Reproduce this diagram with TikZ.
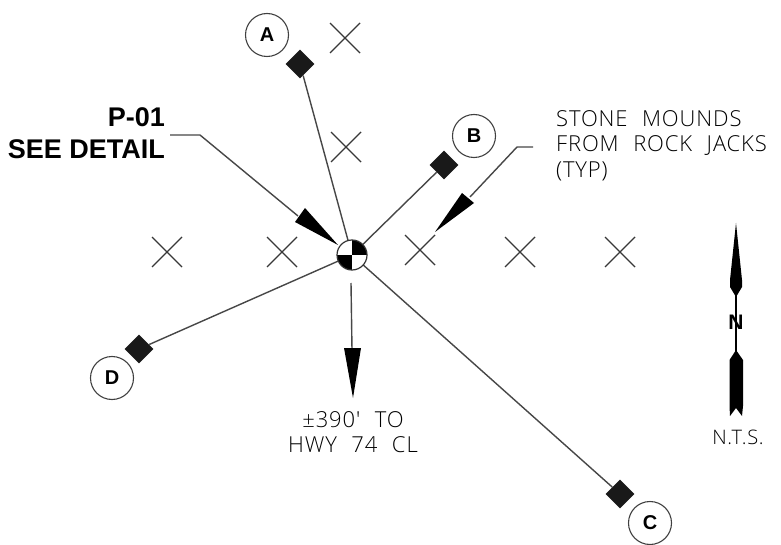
\documentclass[tikz,border=0pt]{standalone}
\usepackage{fontspec}
\setmainfont{Liberation Sans}
\newfontfamily\thinfont[LetterSpace=4,WordSpace=2.2]{Open Sans Light}
\usetikzlibrary{shapes.geometric}
\tikzset{
  x=1pt,y=-1pt,
  wire/.style={draw=black!72,line width=1.4pt},
  xmark/.style={draw=black!78,line width=1.4pt},
  callout/.style={circle,draw=black!75,line width=1.1pt,minimum size=43pt,inner sep=0pt,font=\fontsize{20}{20}\selectfont\bfseries},
  pad/.style={diamond,fill=black!90,minimum size=29pt,inner sep=0pt},
  thintext/.style={font=\thinfont\fontsize{22}{22}\selectfont,text=black,inner sep=0pt},
  boldtext/.style={font=\fontsize{27}{27}\selectfont\bfseries,inner sep=0pt,anchor=base east},
}
\begin{document}
\begin{tikzpicture}
\useasboundingbox (0,0) rectangle (781,545);
\fill[white] (0,0) rectangle (781,545);
% nodes
\node[circle,minimum size=30pt,inner sep=0pt] (hub) at (352,255) {};
\node[callout] (A) at (267,35) {A};
\node[callout] (B) at (474,136) {B};
\node[callout] (C) at (650,523) {C};
\node[callout] (D) at (112,378) {D};
\node[pad] (pa) at (300,64) {};
\node[pad] (pb) at (444,165) {};
\node[pad] (pc) at (620,494) {};
\node[pad] (pd) at (139,349) {};
% connectors
\draw[wire] (pa) -- (hub);
\draw[wire] (pb) -- (hub);
\draw[wire] (pc) -- (hub);
\draw[wire] (pd) -- (hub);
% hub symbol
\begin{scope}
\clip (352,255) circle[radius=15];
\fill[black] (352,255) rectangle (368,239);
\fill[black] (352,255) rectangle (336,271);
\end{scope}
\draw[black!80,line width=1.2pt] (352,255) circle[radius=15];
% x marks
\foreach \n/\x/\y in {a/345/38,b/346/147,c/167/252,d/282/252,e/420/250,f/520/252,g/620/252}{
  \draw[xmark] (\x-15,\y-15) -- (\x+15,\y+15) (\x-15,\y+15) -- (\x+15,\y-15);
}
% P-01 callout
\node[boldtext] (p01a) at (165,127) {P-01};
\node[boldtext] (p01b) at (165,159) {SEE DETAIL};
\coordinate (p1) at (170,135);
\coordinate (p2) at (200,135);
\coordinate (p3) at (298,216);
\coordinate (ptip) at (338,245);
\draw[wire] (p1) -- (p2) -- (p3);
\fill[black] (305,208) -- (ptip) -- (295,222) -- cycle;
% stone callout
\node[thintext,anchor=base west] (st1) at (556,127) {STONE MOUNDS};
\node[thintext,anchor=base west] (st2) at (556,152) {FROM ROCK JACKS};
\node[thintext,anchor=base west] (st3) at (556,178) {(TYP)};
\coordinate (s1) at (533,147);
\coordinate (s2) at (517,147);
\coordinate (s3) at (470,197);
\coordinate (stip) at (435,232);
\draw[wire] (s1) -- (s2) -- (s3);
\fill[black] (462,193) -- (stip) -- (474,203) -- cycle;
% south arrow
\coordinate (h1) at (351,283);
\coordinate (h2) at (352,350);
\coordinate (htip) at (353,398);
\draw[wire] (h1) -- (h2);
\fill[black] (344,348) -- (361,348) -- (htip) -- cycle;
\node[thintext,anchor=base] (hwy1) at (353,427) {±390' TO};
\node[thintext,anchor=base] (hwy2) at (353,452) {HWY 74 CL};
% north arrow
\fill[black] (736,223) -- (742,280) -- (742,287) -- (736,297) -- (730,287) -- (730,280) -- cycle;
\draw[black,line width=1.2pt] (736,295) -- (736,352);
\node[font=\fontsize{21}{21}\selectfont\bfseries,inner sep=0pt] (north) at (736,322) {N};
\fill[black] (736,350) -- (743,360) -- (743,406) -- (742,416) -- (736,408) -- (730,416) -- (729.5,406) -- (729.5,360) -- cycle;
\node[thintext,font=\thinfont\fontsize{20}{20}\selectfont,anchor=base] (nts) at (738,444) {N.T.S.};
\end{tikzpicture}
\end{document}
